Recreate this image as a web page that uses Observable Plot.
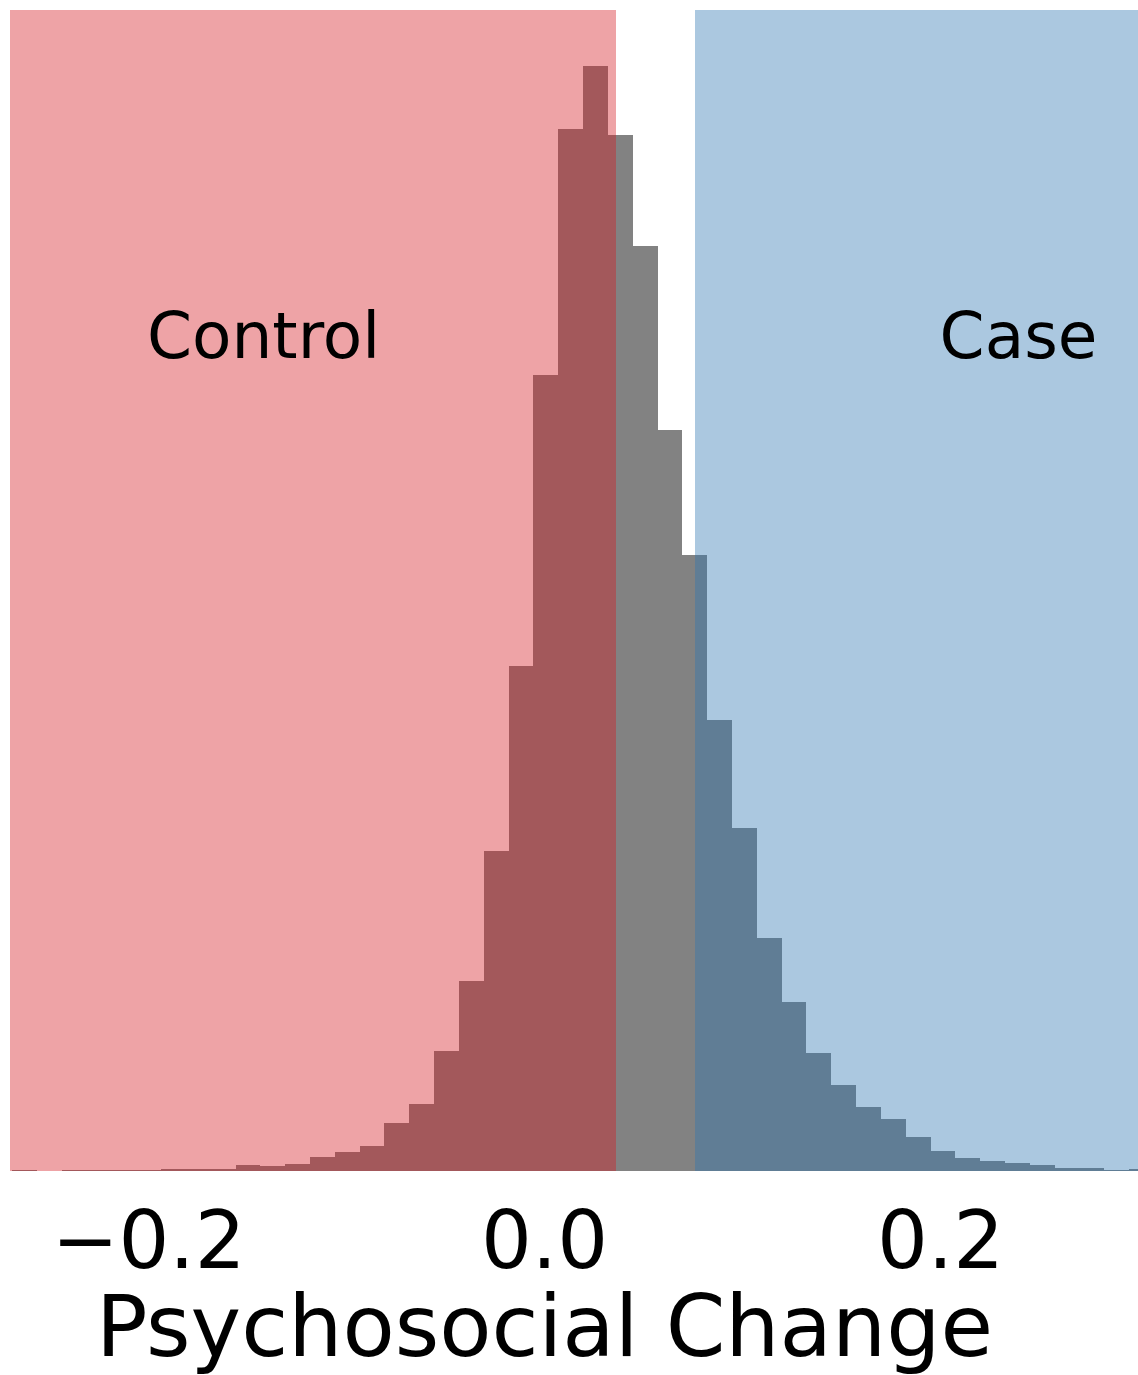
<!DOCTYPE html>
<html>
<head>
<meta charset="utf-8">
<script src="https://cdn.jsdelivr.net/npm/d3@7"></script>
<script src="https://cdn.jsdelivr.net/npm/@observablehq/plot@0.6"></script>
<style>
  html, body { margin: 0; padding: 0; background: #fff; }
  #chart svg { display: block; }
</style>
</head>
<body>
<div id="chart"></div>
<script>
// Histogram of psychosocial change (bin counts)
const binStart = -0.2686;
const binWidth = 0.012536;
const binCounts = [
  1, 0.3, 1, 1, 1, 1, 2, 2, 2, 6,
  5, 7, 14, 19, 25, 48, 67, 120, 190, 320,
  505, 796, 1042, 1105, 1036, 925, 741, 616, 451, 343,
  233, 169, 118, 86, 64, 52, 34, 20, 13, 10,
  8, 6, 3, 3, 1, 2
];

// Shaded groups
const regionNames = ["Control", "Case"];
const regionLow = [-0.2697, 0.0763];
const regionHigh = [0.0366, 0.30];
const regionColors = ["rgb(212,25,32)", "rgb(45,118,178)"];
const labelX = [-0.1419, 0.2394];
const labelY = [814, 814];

// Axis
const xTicks = [-0.2, 0.0, 0.2];
const xLabel = "Psychosocial Change";
const xDomain = [-0.2697, 0.30];
const yDomain = [0, 1161];

const bins = binCounts.map((c, i) => ({
  x1: binStart + i * binWidth,
  x2: binStart + (i + 1) * binWidth,
  count: c
}));
const regions = regionNames.map((name, i) => ({
  name, lo: regionLow[i], hi: regionHigh[i], color: regionColors[i],
  lx: labelX[i], ly: labelY[i]
}));

const fmt = d3.format(".1f");

const chart = Plot.plot({
  width: 1138,
  height: 1375,
  marginTop: 10,
  marginBottom: 204,
  marginLeft: 10,
  marginRight: 0,
  style: { fontFamily: "'DejaVu Sans', sans-serif", background: "#fff" },
  x: { domain: xDomain, ticks: xTicks, tickFormat: fmt, label: null },
  y: { domain: yDomain, axis: null },
  marks: [
    Plot.rectY(bins, {
      x1: "x1", x2: "x2", y: "count",
      fill: "#828282", inset: 0, clip: true,
      shapeRendering: "crispEdges"
    }),
    Plot.rect(regions, {
      x1: "lo", x2: "hi",
      fill: "color", fillOpacity: 0.4, clip: true,
      shapeRendering: "crispEdges"
    }),
    Plot.text(regions, {
      x: "lx", y: "ly", text: "name",
      fontSize: 64.5, fill: "#000", textAnchor: "middle", lineAnchor: "bottom"
    }),
    Plot.axisX(xTicks, {
      tickSize: 0, tickPadding: 40, fontSize: 80, tickFormat: fmt, label: null, fill: "#000"
    }),
    Plot.text([xLabel], {
      x: () => 0, frameAnchor: "bottom", dy: 184,
      text: d => d, fontSize: 85.5, fill: "#000", textAnchor: "middle", lineAnchor: "bottom"
    })
  ]
});

document.getElementById("chart").appendChild(chart);
</script>
</body>
</html>
